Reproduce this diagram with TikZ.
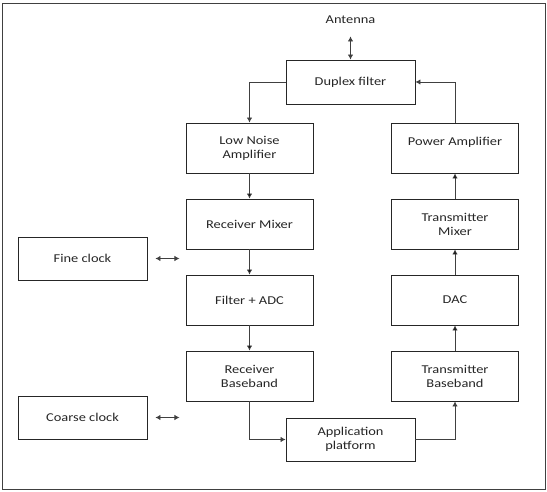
\documentclass[tikz,border=0pt]{standalone}
\usepackage{fontspec}
\setmainfont{Carlito}[FakeStretch=1.2]
\usetikzlibrary{arrows.meta,positioning}

\begin{document}
\begin{tikzpicture}[>={Latex[length=5pt,width=5.5pt]}, node distance=76pt, x=1pt, y=1pt,
        block/.style={draw=black!85, line width=0.9pt, minimum width=127pt, minimum height=50pt,
                      align=center, text=black!85, font=\fontsize{12}{14}\selectfont},
        flat/.style={block, minimum width=129pt, minimum height=43pt},
        link/.style={draw=black!75, line width=0.8pt}]
        \useasboundingbox (0,0) rectangle (547,491);
        \draw[black!75, line width=0.9pt] (2,2) rectangle (545,488);

        \node[flat, minimum height=44pt] (df)  at (350.5,409)          {Duplex filter};
        \node[block]                     (lna) at (249.5,343)          {Low Noise\\Amplifier};
        \node[block]                     (rxm) [below of=lna]          {Receiver Mixer};
        \node[block]                     (adc) [below of=rxm]          {Filter + ADC};
        \node[block]                     (rxb) [below of=adc]          {Receiver\\Baseband};
        \node[block, node distance=205.5pt] (pa) [right of=lna]        {Power Amplifier\\\mbox{}};
        \node[block]                     (txm) [below of=pa]           {Transmitter\\Mixer};
        \node[block]                     (dac) [below of=txm]          {DAC};
        \node[block]                     (txb) [below of=dac]          {Transmitter\\Baseband};
        \node[flat]                      (app) at (350.5,51.5)         {Application\\platform};
        \node[flat]                      (fc)  at (82.5,232.5)         {Fine clock};
        \node[flat]                      (cc)  at (82.5,73.5)          {Coarse clock};
        \node[text=black!85, font=\fontsize{12}{14}\selectfont] (ant) at (350.5,471) {Antenna};

        \coordinate[right=8pt of fc]  (fa);
        \coordinate[right=32pt of fc] (fb);
        \coordinate[right=8pt of cc]  (ca);
        \coordinate[right=32pt of cc] (cb);

        \draw[link, <->, shorten <=9pt] (ant) -- (df);
        \draw[link, ->] (df.west) -| (lna.north);
        \draw[link, ->] (pa.north) |- (df.east);
        \path[link, ->] (lna) edge (rxm)
                        (rxm) edge (adc)
                        (adc) edge (rxb);
        \path[link, ->] (txb) edge (dac)
                        (dac) edge (txm)
                        (txm) edge (pa);
        \draw[link, ->] (rxb.south) |- (app.west);
        \draw[link, ->] (app.east) -| (txb.south);
        \draw[link, <->] (fa) -- (fb);
        \draw[link, <->] (ca) -- (cb);
\end{tikzpicture}
\end{document}
